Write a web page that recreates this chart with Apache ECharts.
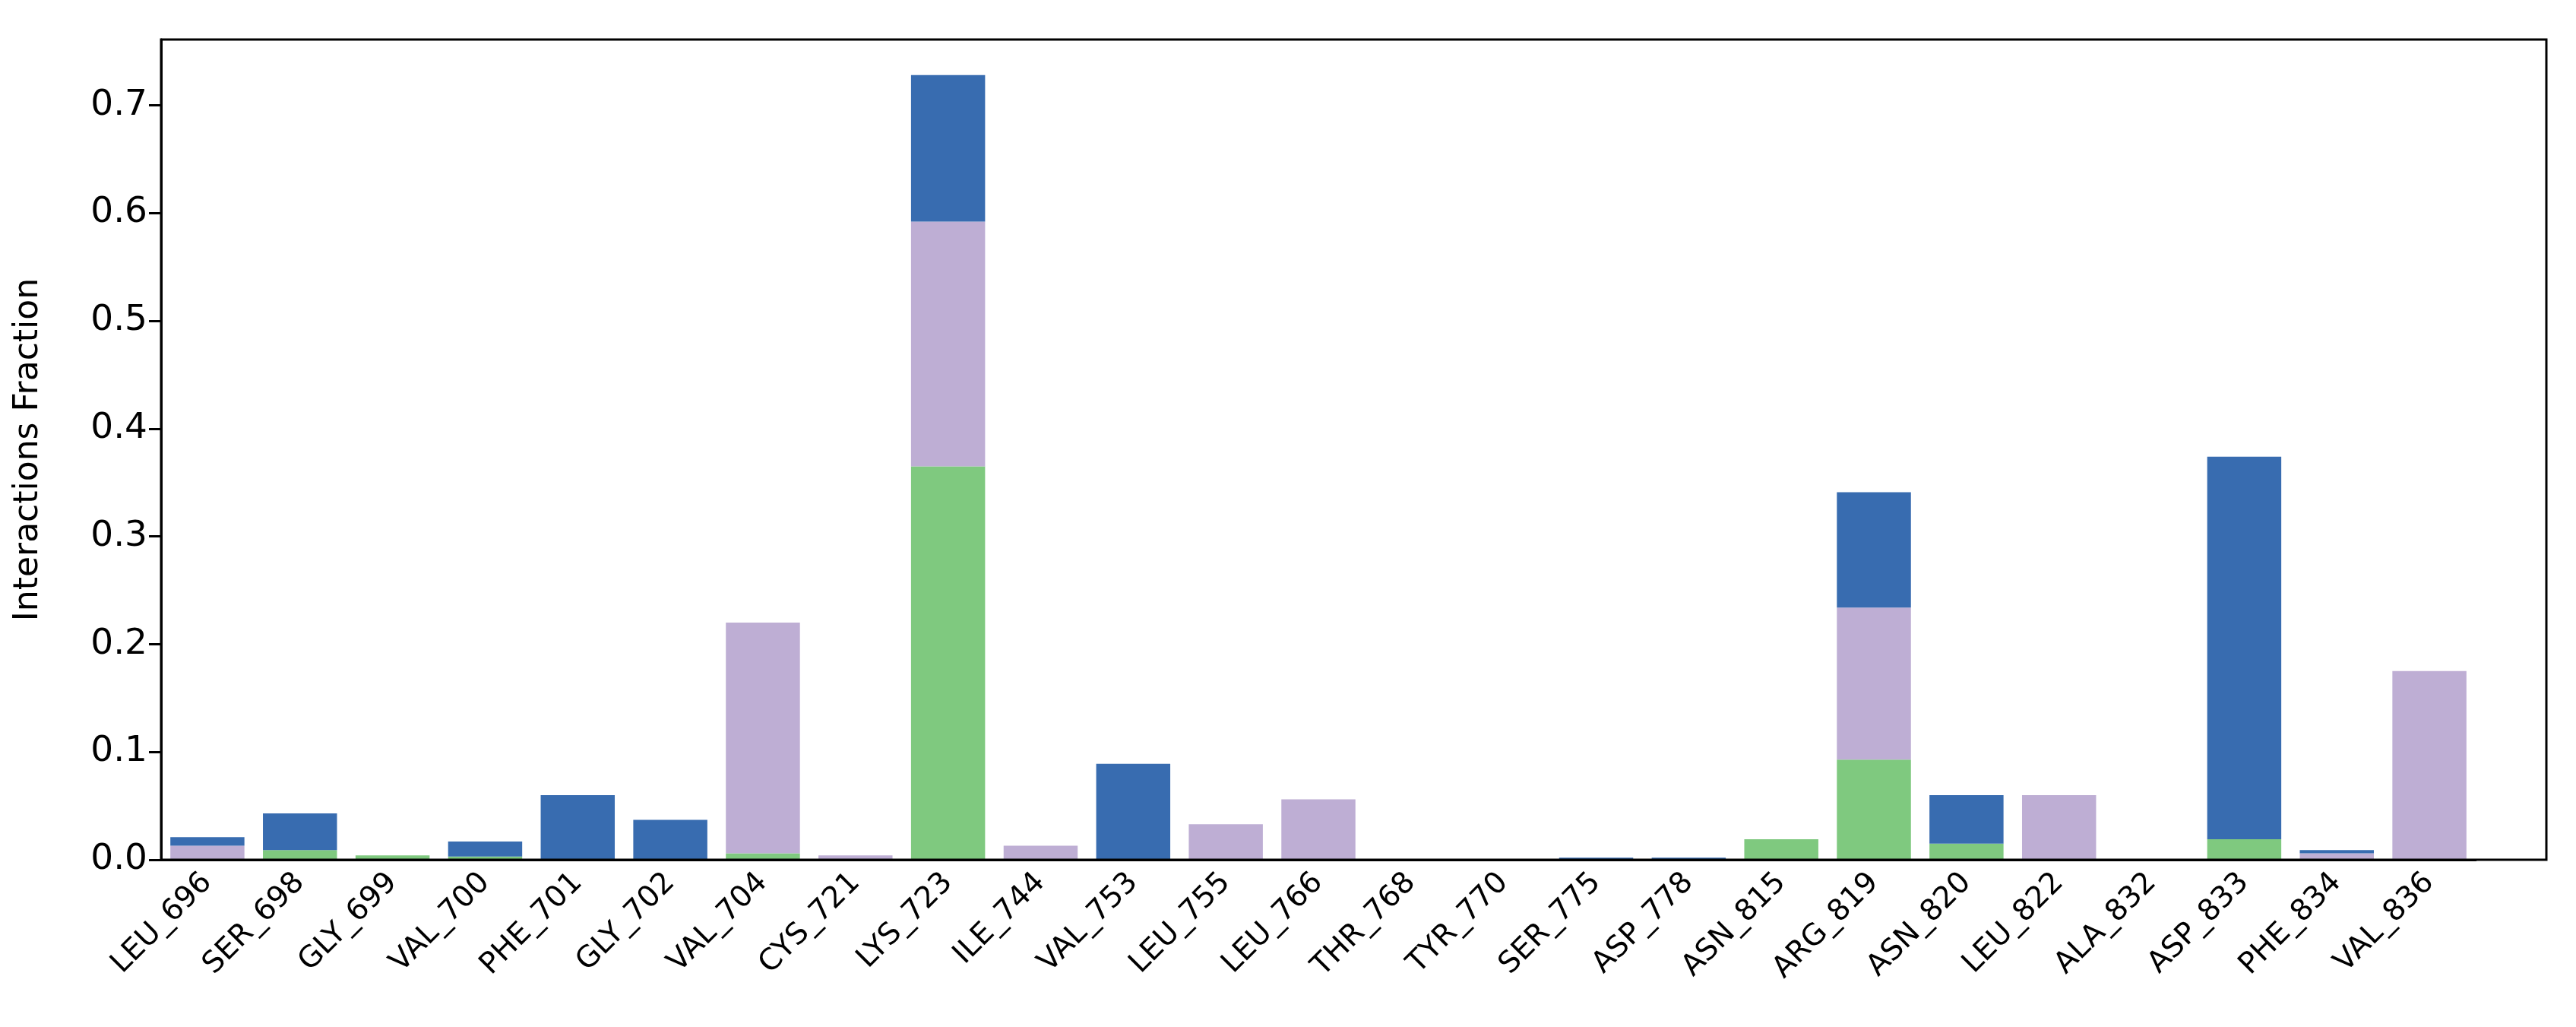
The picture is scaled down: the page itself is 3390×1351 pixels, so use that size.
<!DOCTYPE html>
<html><head><meta charset="utf-8">
<script src="https://cdn.jsdelivr.net/npm/echarts@6/dist/echarts.min.js"></script>
<style>html,body{margin:0;padding:0;background:#fff}#c{width:3390px;height:1351px}</style>
</head><body><div id="c"></div>
<script>
const categories = ["LEU_696","SER_698","GLY_699","VAL_700","PHE_701","GLY_702","VAL_704","CYS_721","LYS_723","ILE_744","VAL_753","LEU_755","LEU_766","THR_768","TYR_770","SER_775","ASP_778","ASN_815","ARG_819","ASN_820","LEU_822","ALA_832","ASP_833","PHE_834","VAL_836"];
const hbonds      = [0,0.009,0.004,0.003,0,0,0.006,0,0.365,0,0,0,0,0,0,0,0,0.019,0.093,0.015,0,0,0.019,0,0];
const hydrophobic = [0.013,0,0,0,0,0,0.214,0.004,0.227,0.013,0,0.033,0.056,0,0,0,0,0,0.141,0,0.06,0,0,0.006,0.175];
const waterBridges= [0.008,0.034,0,0.014,0.06,0.037,0,0,0.136,0,0.089,0,0,0,0,0.002,0.002,0,0.107,0.045,0,0,0.355,0.003,0];
const yTicks = [0,0.1,0.2,0.3,0.4,0.5,0.6,0.7];

const chart = echarts.init(document.getElementById('c'));
const black = '#000';
function s(name, data, color){
  return {name, type:'bar', stack:'t', data, barWidth:'80%', itemStyle:{color}, silent:true};
}
chart.setOption({
  animation:false,
  graphic:[{type:'rect', shape:{x:212,y:52,width:3139,height:1079}, style:{fill:'none',stroke:black,lineWidth:3}, z:100}],
  grid:{left:212, top:52, right:132, bottom:220},
  xAxis:{type:'category', data:categories,
    axisLine:{lineStyle:{color:black,width:3}},
    axisTick:{alignWithLabel:true, length:16, lineStyle:{color:black,width:3}},
    axisLabel:{rotate:45, color:'#000', fontSize:39, fontFamily:'DejaVu Sans', margin:24, interval:0}},
  yAxis:{type:'value', min:0, max:0.761, interval:0.1,
    name:'Interactions Fraction', nameLocation:'middle', nameGap:152,
    nameTextStyle:{fontSize:44, fontFamily:'DejaVu Sans', color:'#000'},
    splitLine:{show:false},
    axisLine:{show:true, lineStyle:{color:black,width:3}},
    axisTick:{show:true, length:16, lineStyle:{color:black,width:3}},
    axisLabel:{showMaxLabel:false, fontSize:47, fontFamily:'DejaVu Sans', color:'#000', margin:18,
      formatter:v=>{const t=yTicks.find(x=>Math.abs(x-v)<1e-6);return t===undefined?'':t.toFixed(1);}}},
  series:[s('H-bonds',hbonds,'#7fc97f'), s('Hydrophobic',hydrophobic,'#beaed4'), s('Water Bridges',waterBridges,'#386cb0')]
});
</script></body></html>
